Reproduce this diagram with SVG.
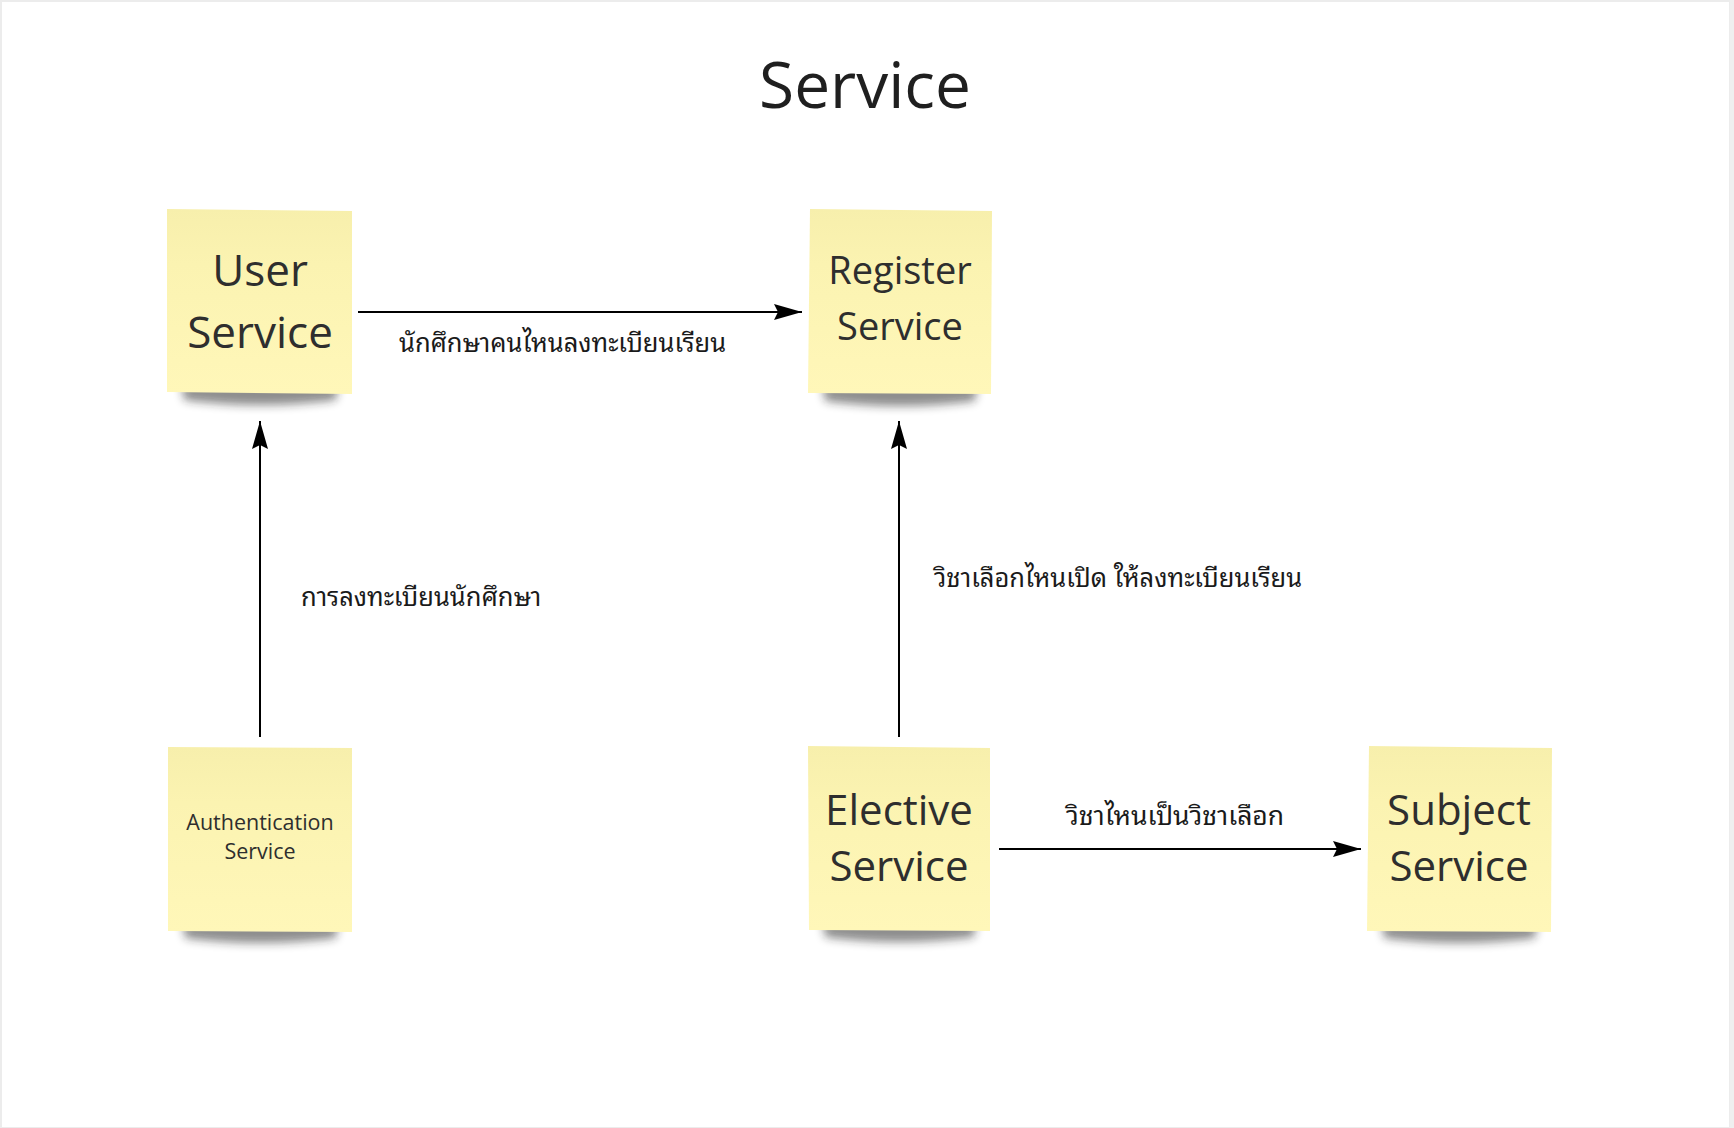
<svg xmlns="http://www.w3.org/2000/svg" width="1734" height="1128" viewBox="0 0 1734 1128">
<style>
.note{fill:url(#ng);}
.shadow{fill:#1a1a1a;opacity:0.5;filter:url(#blur);}
.nt{font-family:"Open Sans","Noto Sans",sans-serif;fill:#2e2e2e;text-anchor:middle;}
.lbl{font-family:"Noto Sans Thai Looped","Loma","Garuda","Tahoma","Noto Sans Thai","Noto Sans","DejaVu Sans",sans-serif;fill:#1a1a1a;font-size:25.5px;}
.conn{stroke:#000;stroke-width:2;fill:none;marker-end:url(#ah);}
</style>
<defs>
<linearGradient id="ng" x1="0" y1="0" x2="0" y2="1">
<stop offset="0" stop-color="#f7efac"/>
<stop offset="0.3" stop-color="#fbf3b1"/>
<stop offset="1" stop-color="#fff7b9"/>
</linearGradient>
<filter id="blur" x="-20%" y="-100%" width="140%" height="300%">
<feGaussianBlur stdDeviation="5"/>
</filter>
<marker id="ah" markerWidth="30" markerHeight="16" refX="28" refY="8" orient="auto" markerUnits="userSpaceOnUse">
<path d="M0,0 L28,8 L0,16 L4,8 Z" fill="#000"/>
</marker>
</defs>
<rect x="0" y="0" width="1734" height="1128" fill="#ffffff"/>
<rect x="1" y="1" width="1729" height="1127" fill="none" stroke="#ececec" stroke-width="2"/>
<rect x="1730" y="0" width="4" height="1128" fill="#efefef"/>
<text x="865" y="108" font-family="'Open Sans','Noto Sans',sans-serif" font-size="64" fill="#1f1f1f" text-anchor="middle">Service</text>
<g id="connectors">
<line class="conn" x1="358" y1="312" x2="802" y2="312"/>
<line class="conn" x1="260" y1="737" x2="260" y2="421"/>
<line class="conn" x1="899" y1="737" x2="899" y2="421"/>
<line class="conn" x1="999" y1="849" x2="1361" y2="849"/>
<text class="lbl" x="399" y="352">นักศึกษาคนไหนลงทะเบียนเรียน</text>
<text class="lbl" x="301" y="606">การลงทะเบียนนักศึกษา</text>
<text class="lbl" x="934" y="587">วิชาเลือกไหนเปิด ให้ลงทะเบียนเรียน</text>
<text class="lbl" x="1066" y="825" style="font-size:26.5px">วิชาไหนเป็นวิชาเลือก</text>
</g>
<g id="user-service">
<path class="shadow" d="M182,384 L338,384 L336,400 Q260,410 184,400 Z"/>
<polygon class="note" points="167,209 352,211 352,394 167,392"/>
<text class="nt" font-size="44" x="260" y="286">User</text>
<text class="nt" font-size="44" x="260" y="348">Service</text>
</g>
<g id="register-service">
<path class="shadow" d="M823,385 L977,385 L975,401 Q900,411 825,401 Z"/>
<polygon class="note" points="810,209 992,211 991,394 808,393"/>
<text class="nt" font-size="38" x="900" y="284">Register</text>
<text class="nt" font-size="38" x="900" y="340">Service</text>
</g>
<g id="authentication-service">
<path class="shadow" d="M183,922 L338,922 L336,938 Q260,948 185,938 Z"/>
<polygon class="note" points="168,747 352,748 352,932 168,931"/>
<text class="nt" font-size="21.5" x="260" y="830">Authentication</text>
<text class="nt" font-size="21.5" x="260" y="859">Service</text>
</g>
<g id="elective-service">
<path class="shadow" d="M823,921 L976,921 L974,937 Q899,947 825,937 Z"/>
<polygon class="note" points="808,746 990,748 990,931 809,930"/>
<text class="nt" font-size="42" x="899" y="825">Elective</text>
<text class="nt" font-size="42" x="899" y="881">Service</text>
</g>
<g id="subject-service">
<path class="shadow" d="M1382,922 L1537,922 L1535,938 Q1459,948 1384,938 Z"/>
<polygon class="note" points="1369,746 1552,748 1551,932 1367,931"/>
<text class="nt" font-size="42" x="1459" y="825">Subject</text>
<text class="nt" font-size="42" x="1459" y="881">Service</text>
</g>
</svg>
